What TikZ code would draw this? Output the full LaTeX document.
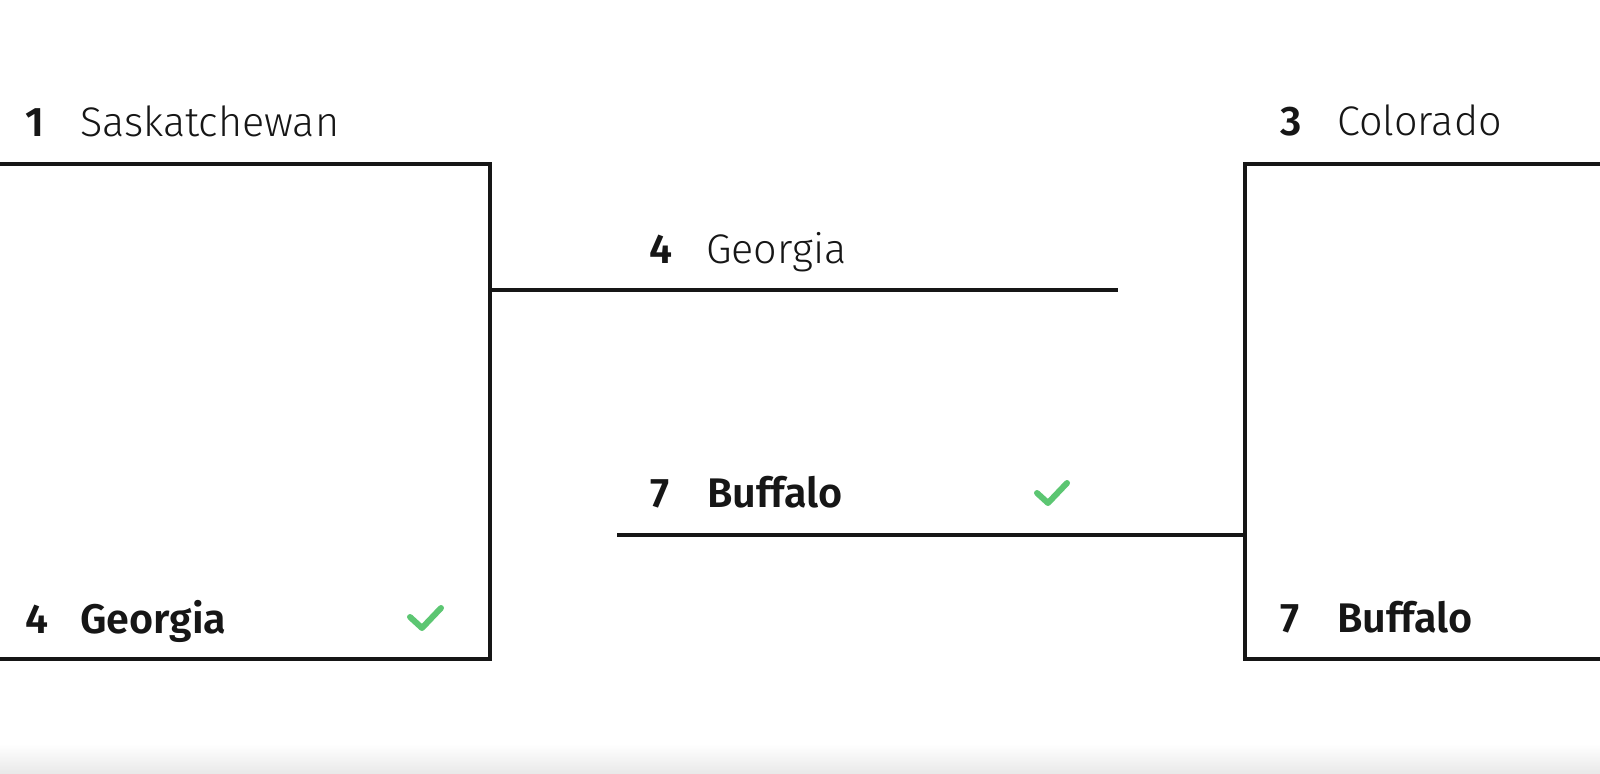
\documentclass[tikz,border=0pt]{standalone}
\usepackage{fontspec}
\setmainfont{Fira Sans Light}[BoldFont={Fira Sans SemiBold}]
\usetikzlibrary{positioning}

\definecolor{inkBlack}{RGB}{22,22,22}
\definecolor{winGreen}{RGB}{92,198,114}

\tikzset{
  bracket/.style={draw=inkBlack, line width=3.5pt},
  seed/.style={anchor=base west, inner sep=0pt, text=inkBlack, font=\fontsize{31}{36}\selectfont\bfseries},
  team/.style={anchor=base west, inner sep=0pt, text=inkBlack, font=\fontsize{31}{36}\selectfont},
  winner/.style={team, font=\fontsize{31}{36}\selectfont\bfseries},
  tick/.style={draw=winGreen, line width=4.5pt, line cap=round, line join=round},
}

\begin{document}
\begin{tikzpicture}[x=0.75pt,y=0.75pt,yscale=-1,xscale=1]
  \useasboundingbox (0,0) rectangle (1600,774);

  %bottom shadow
  \shade [top color=white, bottom color=black!9] (0,744) rectangle (1600,774);

  %left bracket
  \coordinate (saskTop) at (0,164);
  \coordinate (saskCorner) at (490,164);
  \coordinate (geoCorner) at (490,659);
  \coordinate (geoBottom) at (0,659);
  \draw [bracket] (saskTop) -- (saskCorner) -- (geoCorner) -- (geoBottom);

  %right bracket
  \coordinate (colTop) at (1600,164);
  \coordinate (colCorner) at (1245,164);
  \coordinate (bufCorner) at (1245,659);
  \coordinate (bufBottom) at (1600,659);
  \draw [bracket] (colTop) -- (colCorner) -- (bufCorner) -- (bufBottom);

  %final
  \coordinate (leftOut) at (490,290);
  \coordinate (topEnd) at (1118,290);
  \coordinate (bottomStart) at (617,535);
  \coordinate (rightOut) at (1245,535);
  \draw [bracket] (leftOut) -- (topEnd);
  \draw [bracket] (bottomStart) -- (rightOut);

  % Text Node
  \node [seed] (seedSask) at (25,137) {1};
  \node [team] (teamSask) at (80,137) {Saskatchewan};
  \node [seed] (seedGeo) at (25,633) {4};
  \node [winner] (teamGeo) at (80,633) {Georgia};
  \node [seed] (seedCol) at (1280,135) {3};
  \node [team] (teamCol) at (1337,135) {Colorado};
  \node [seed] (seedBuf) at (1280,632) {7};
  \node [winner] (teamBuf) at (1337,632) {Buffalo};
  \node [seed] (seedGeoF) at (649,263) {4};
  \node [team] (teamGeoF) at (706,263) {Georgia};
  \node [seed] (seedBufF) at (650,507) {7};
  \node [winner] (teamBufF) at (707,507) {Buffalo};

  %ticks
  \draw [tick] (410,617) -- (422,628) -- (441,608);
  \draw [tick] (1037,493) -- (1048,503) -- (1067,483);

\end{tikzpicture}
\end{document}
